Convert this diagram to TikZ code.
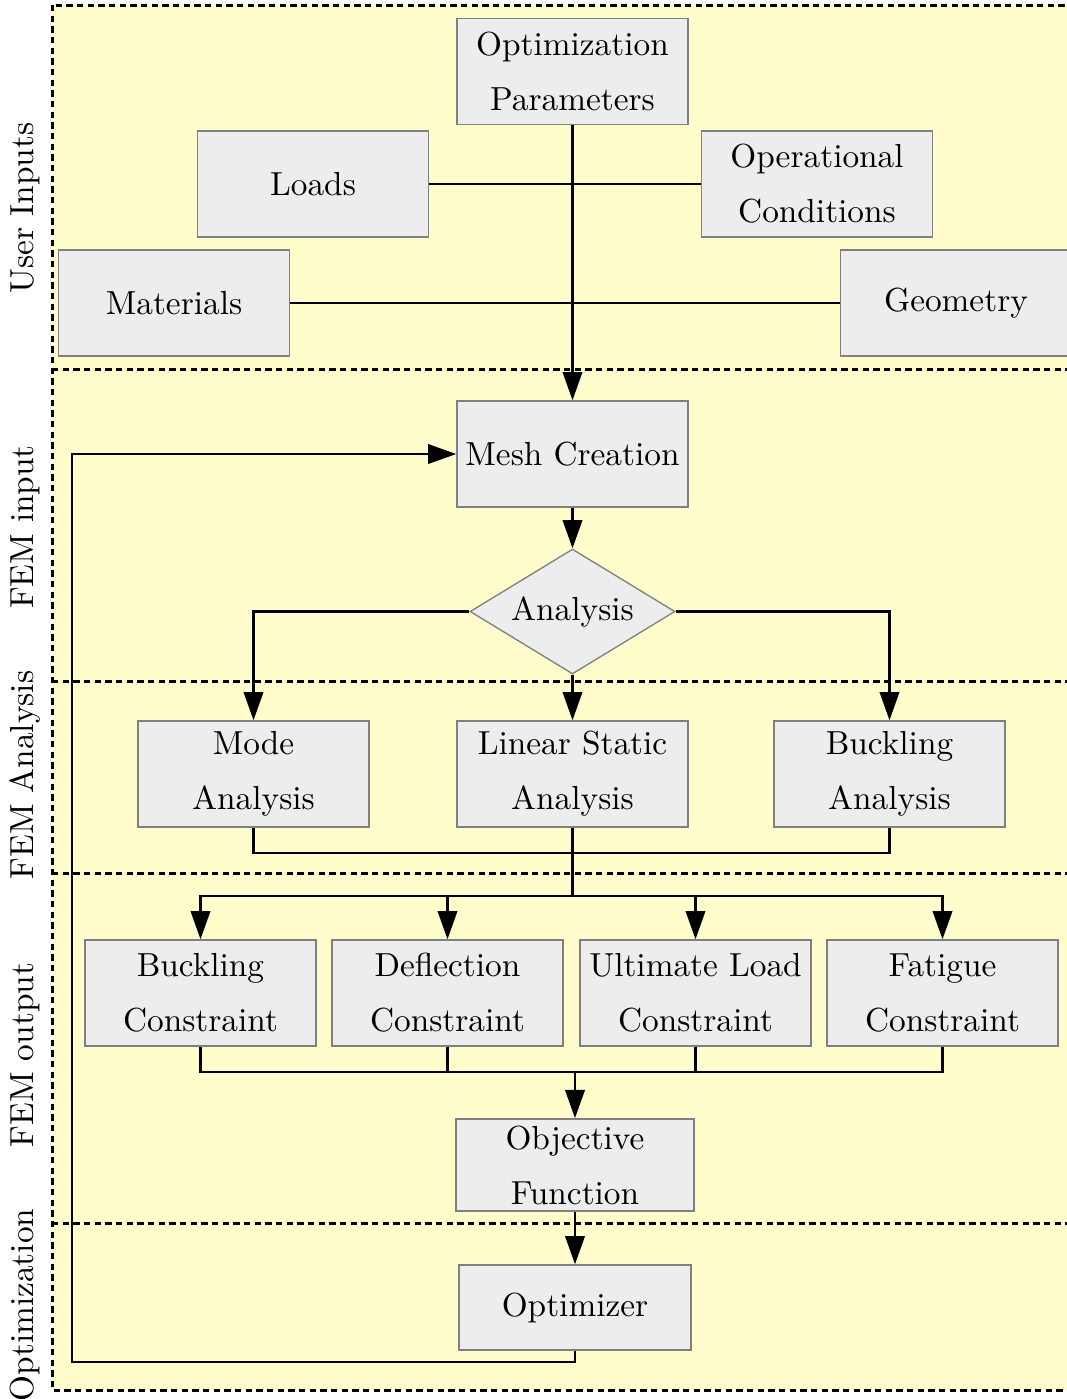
\documentclass[tikz,border=0pt]{standalone}
\usetikzlibrary{arrows.meta,shapes.geometric}
\definecolor{bandfill}{RGB}{255,253,204}
\definecolor{boxfill}{RGB}{237,237,237}
\definecolor{boxline}{RGB}{128,128,128}
\tikzset{
  blk/.style={draw=boxline, fill=boxfill, line width=0.4pt, align=center,
    minimum width=69.3pt, minimum height=31.8pt, inner sep=2pt,
    font={\fontsize{10}{16.5}\selectfont}},
  dia/.style={draw=boxline, fill=boxfill, line width=0.4pt, shape=diamond,
    inner sep=0pt, aspect=1.64, minimum width=61.5pt, minimum height=37.5pt},
  bandarea/.style={fill=bandfill},
  bandedge/.style={draw=black, line width=0.9pt, dash pattern=on 1.9pt off 1.3pt},
  wire/.style={line width=0.85pt},
  arr/.style={line width=0.85pt, -{Triangle[length=8.5pt,width=5.8pt]}},
  side/.style={rotate=90, font=\fontsize{10}{12}\selectfont}
}
\begin{document}
\begin{tikzpicture}[x=0.3pt, y=-0.3pt]
\useasboundingbox (0,0) rectangle (1067,1399);
% yellow area with dashed frame and section separators
\path[bandarea] (52,5) rectangle (1120,1390);
\path[bandedge] (52,5) rectangle (1120,1390);
\coordinate (s0) at (52,369);
\coordinate (s1) at (52,681);
\coordinate (s2) at (52,873);
\coordinate (s3) at (52,1223);
\path[bandedge] (s0) -- (1120,369);
\path[bandedge] (s1) -- (1120,681);
\path[bandedge] (s2) -- (1120,873);
\path[bandedge] (s3) -- (1120,1223);
% section labels
\node[side] (lab1) at (25,208) {User Inputs};
\node[side] (lab2) at (25,527) {FEM input};
\node[side] (lab3) at (25,775) {FEM Analysis};
\node[side] (lab4) at (25,1055) {FEM output};
\node[side] (lab5) at (25,1305) {Optimization};
% user inputs
\node[blk] (par) at (572.5,71.5) {Optimization\\Parameters};
\node[blk] (lds) at (313,184) {Loads};
\node[blk] (opc) at (817,184) {Operational\\Conditions};
\node[blk] (mat) at (174,303) {Materials};
\node[blk] (geo) at (956,303) {Geometry};
% FEM input
\node[blk] (mesh) at (572.5,454) {Mesh Creation};
\node[dia] (ana) at (572.5,611.5) {Analysis};
% FEM analysis
\node[blk] (mode) at (253.5,774) {Mode\\Analysis};
\node[blk] (lin) at (572.5,774) {Linear Static\\Analysis};
\node[blk] (buck) at (889.5,774) {Buckling\\Analysis};
% FEM output
\node[blk] (bc) at (200.5,993) {Buckling\\Constraint};
\node[blk] (dc) at (447.5,993) {Deflection\\Constraint};
\node[blk] (uc) at (695.5,993) {Ultimate Load\\Constraint};
\node[blk] (fc) at (942.5,993) {Fatigue\\Constraint};
\node[blk, minimum width=71.4pt, minimum height=27.6pt] (obj) at (575,1165) {Objective\\Function};
% optimization
\node[blk, minimum width=69.6pt, minimum height=25.5pt] (opt) at (575,1307.5) {Optimizer};
% junction points
\coordinate (busA) at (572.5,853);
\coordinate (busB) at (572.5,896);
\coordinate (busC) at (575,1072);
\coordinate (fbl) at (72,1362);
% connectors
\draw[wire] (lds.east) -- (opc.west);
\draw[wire] (mat.east) -- (geo.west);
\draw[arr] (par.south) -- (mesh.north);
\draw[arr] (mesh.south) -- (ana.north);
\draw[arr] (ana.west) -| (mode.north);
\draw[arr] (ana.east) -| (buck.north);
\draw[arr] (ana.south) -- (lin.north);
\draw[wire] (mode.south) |- (busA) -| (buck.south);
\draw[wire] (lin.south) -- (busB);
\draw[arr] (busB) -| (bc.north);
\draw[arr] (busB) -| (dc.north);
\draw[arr] (busB) -| (uc.north);
\draw[arr] (busB) -| (fc.north);
\draw[wire] (bc.south) |- (busC);
\draw[wire] (dc.south) |- (busC);
\draw[wire] (uc.south) |- (busC);
\draw[wire] (fc.south) |- (busC);
\draw[arr] (busC) -- (obj.north);
\draw[arr] (obj.south) -- (opt.north);
\draw[arr] (opt.south) |- (fbl) |- (mesh.west);
\end{tikzpicture}
\end{document}
